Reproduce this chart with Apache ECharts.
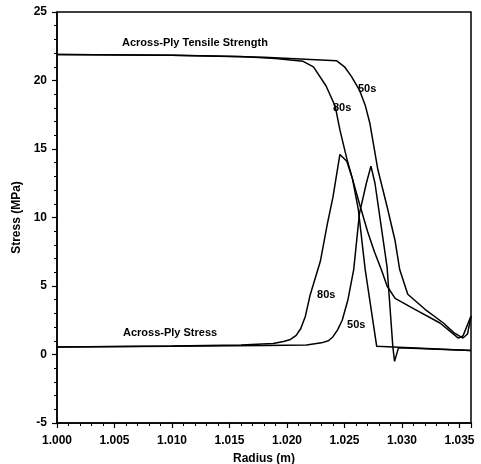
<!DOCTYPE html>
<html>
<head>
<meta charset="utf-8">
<script src="https://cdn.jsdelivr.net/npm/echarts@6/dist/echarts.min.js"></script>
<style>
  html, body { margin: 0; padding: 0; background: #fff; }
  #chart { width: 481px; height: 464px; }
</style>
</head>
<body>
<div id="chart"></div>
<script>
// radius (m) and stress (MPa)
const strength80X = [1.000, 1.010, 1.016, 1.019, 1.0214, 1.0223, 1.0234, 1.0242, 1.0246, 1.0252, 1.0257, 1.0263, 1.0270, 1.0276, 1.0282, 1.0287, 1.0294, 1.0310, 1.0333, 1.0349, 1.0353, 1.036];
const strength80Y = [21.9, 21.85, 21.75, 21.6, 21.4, 21.0, 19.6, 18.1, 16.4, 14.3, 12.8, 11.0, 9.0, 7.5, 6.2, 5.0, 4.1, 3.35, 2.3, 1.2, 1.35, 2.8];

const strength50X = [1.000, 1.010, 1.018, 1.0243, 1.0250, 1.0256, 1.0263, 1.0268, 1.0272, 1.0279, 1.0287, 1.0294, 1.0298, 1.0305, 1.0320, 1.0336, 1.0345, 1.0353, 1.0357, 1.036];
const strength50Y = [21.9, 21.85, 21.7, 21.45, 21.0, 20.3, 19.3, 18.2, 16.9, 13.5, 10.8, 8.3, 6.2, 4.4, 3.3, 2.3, 1.6, 1.2, 1.5, 2.8];

const stress80X = [1.000, 1.010, 1.016, 1.0188, 1.0197, 1.0203, 1.0208, 1.0212, 1.0216, 1.0220, 1.0229, 1.0235, 1.0240, 1.0246, 1.0252, 1.0257, 1.0262, 1.0268, 1.0278, 1.036];
const stress80Y = [0.55, 0.62, 0.7, 0.8, 0.95, 1.1, 1.4, 1.9, 2.8, 4.3, 6.8, 9.5, 11.5, 14.6, 14.1, 12.8, 10.6, 6.2, 0.6, 0.3];

const stress50X = [1.000, 1.010, 1.018, 1.0217, 1.0230, 1.0236, 1.0240, 1.0244, 1.0248, 1.0253, 1.0258, 1.0263, 1.0269, 1.0273, 1.02765, 1.0287, 1.0292, 1.02935, 1.0297, 1.036];
const stress50Y = [0.55, 0.6, 0.65, 0.7, 0.85, 1.0, 1.3, 1.8, 2.5, 4.0, 6.2, 10.3, 12.5, 13.75, 12.5, 6.4, 0.6, -0.5, 0.5, 0.3];

const yTicks = [-5, 0, 5, 10, 15, 20, 25];
const xTickStep = 0.005;

// annotation texts, anchored at their left / middle in data units
const notes = [
  { text: 'Across-Ply Tensile Strength', x: 1.00565, y: 22.74 },
  { text: '50s', x: 1.02617, y: 19.38 },
  { text: '80s', x: 1.0240, y: 18.0 },
  { text: '80s', x: 1.02261, y: 4.34 },
  { text: '50s', x: 1.02522, y: 2.15 },
  { text: 'Across-Ply Stress', x: 1.00574, y: 1.57 }
];

const zip = (xs, ys) => xs.map((x, i) => [x, ys[i]]);

const lineSeries = (xs, ys) => ({
  type: 'line',
  data: zip(xs, ys),
  showSymbol: false,
  symbol: 'none',
  lineStyle: { color: '#000', width: 1.5 },
  z: 3
});

const font = 'Liberation Sans, Arial, sans-serif';
const chart = echarts.init(document.getElementById('chart'));

const option = {
  animation: false,
  backgroundColor: '#fff',
  grid: {
    left: 57, right: 10, top: 12, bottom: 41,
    outerBoundsMode: 'none',
    show: true, borderColor: '#000', borderWidth: 1.5, backgroundColor: 'transparent'
  },
  xAxis: {
    type: 'value',
    min: 1.000,
    max: 1.036,
    interval: xTickStep,
    name: 'Radius (m)',
    nameLocation: 'middle',
    nameGap: 30,
    nameTextStyle: { color: '#000', fontSize: 12, fontWeight: 'bold', fontFamily: font },
    axisLine: { onZero: false, lineStyle: { color: '#000', width: 1.5 } },
    axisTick: { inside: false, length: 5, lineStyle: { color: '#000', width: 1.2 } },
    minorTick: { show: true, splitNumber: 5, length: 3, lineStyle: { color: '#000' } },
    splitLine: { show: false },
    axisLabel: {
      color: '#000', fontSize: 12, fontWeight: 'bold', fontFamily: font, margin: 12,
      showMaxLabel: false,
      formatter: v => v.toFixed(3)
    }
  },
  yAxis: {
    type: 'value',
    min: yTicks[0],
    max: yTicks[yTicks.length - 1],
    interval: 5,
    name: 'Stress (MPa)',
    nameLocation: 'middle',
    nameGap: 29,
    nameTextStyle: { color: '#000', fontSize: 12, fontWeight: 'bold', fontFamily: font },
    axisLine: { onZero: false, lineStyle: { color: '#000', width: 1.5 } },
    axisTick: { length: 5, lineStyle: { color: '#000', width: 1.2 } },
    minorTick: { show: true, splitNumber: 5, length: 3, lineStyle: { color: '#000' } },
    splitLine: { show: false },
    axisLabel: { color: '#000', fontSize: 12, fontWeight: 'bold', fontFamily: font, margin: 10 }
  },
  series: [
    lineSeries(strength80X, strength80Y),
    lineSeries(strength50X, strength50Y),
    lineSeries(stress80X, stress80Y),
    lineSeries(stress50X, stress50Y)
  ]
};

chart.setOption(option);

chart.setOption({
  graphic: notes.map(n => {
    const p = chart.convertToPixel({ gridIndex: 0 }, [n.x, n.y]);
    return {
      type: 'text',
      x: p[0],
      y: p[1],
      z: 10,
      style: {
        text: n.text,
        fill: '#000',
        font: 'bold 11px ' + font,
        textAlign: 'left',
        textVerticalAlign: 'middle'
      }
    };
  })
});
</script>
</body>
</html>
